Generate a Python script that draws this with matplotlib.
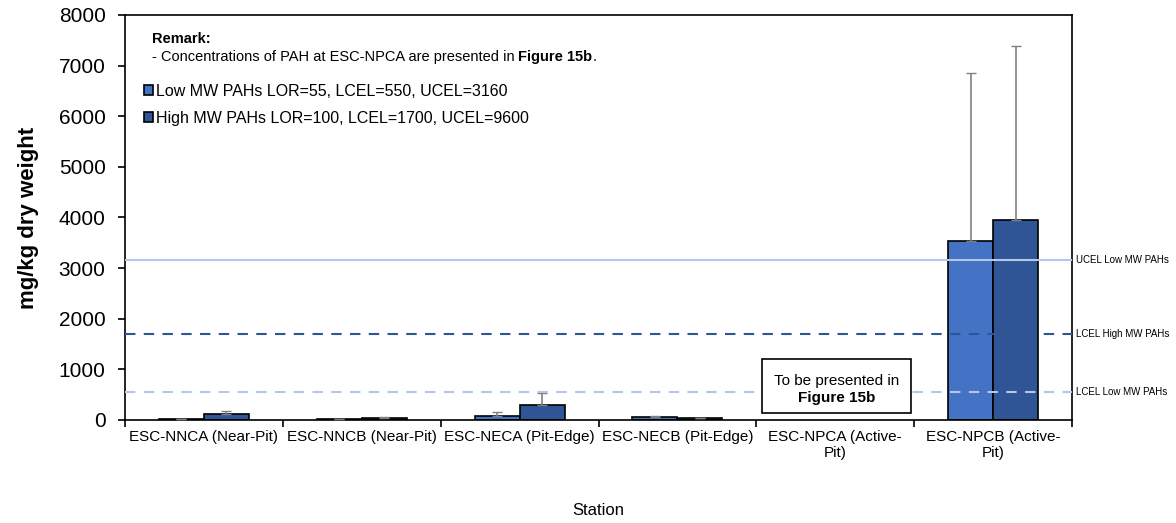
import numpy as np
import matplotlib.pyplot as plt
from matplotlib.patches import Rectangle

plt.rcParams['font.family'] = ['Liberation Sans', 'DejaVu Sans']

# Dados
stations = ['ESC-NNCA (Near-Pit)', 'ESC-NNCB (Near-Pit)', 'ESC-NECA (Pit-Edge)',
            'ESC-NECB (Pit-Edge)', 'ESC-NPCA (Active-\nPit)', 'ESC-NPCB (Active-\nPit)']
low_mw = [20, 15, 80, 50, np.nan, 3530]
low_err = [0, 0, 70, 30, np.nan, 3320]
high_mw = [115, 45, 290, 45, np.nan, 3950]
high_err = [65, 10, 240, 0, np.nan, 3430]

ucel_low = 3160
lcel_high = 1700
lcel_low = 550

c_low = '#4472C4'
c_high = '#2F5597'

fig = plt.figure(figsize=(11.76, 5.23), dpi=100)
ax = fig.add_axes([0.1063, 0.197, 0.8053, 0.7744])

x = np.arange(len(stations))
w = 0.285
ax.bar(x - w / 2, low_mw, w, color=c_low, edgecolor='black', linewidth=1.2,
       label='Low MW PAHs LOR=55, LCEL=550, UCEL=3160', zorder=2)
ax.bar(x + w / 2, high_mw, w, color=c_high, edgecolor='black', linewidth=1.2,
       label='High MW PAHs LOR=100, LCEL=1700, UCEL=9600', zorder=2)
ax.errorbar(x - w / 2, low_mw, yerr=[np.zeros(len(x)), low_err], fmt='none',
            ecolor='gray', elinewidth=1.2, capsize=3.5, zorder=3)
ax.errorbar(x + w / 2, high_mw, yerr=[np.zeros(len(x)), high_err], fmt='none',
            ecolor='gray', elinewidth=1.2, capsize=3.5, zorder=3)

# Linhas de referência
ax.axhline(ucel_low, color='#B4C7E7', linewidth=1.5, zorder=4)
ax.axhline(lcel_high, color='#2F5597', linewidth=1.5, linestyle=(0, (5, 4)), zorder=4)
ax.axhline(lcel_low, color='#B4C7E7', linewidth=1.5, linestyle=(0, (5, 4)), zorder=4)
for yv, txt in [(ucel_low, 'UCEL Low MW PAHs'), (lcel_high, 'LCEL High MW PAHs'),
                (lcel_low, 'LCEL Low MW PAHs')]:
    ax.text(1.004, yv, txt, transform=ax.get_yaxis_transform(), fontsize=7,
            va='center', ha='left')

ax.set_xlim(-0.5, len(stations) - 0.5)
ax.set_ylim(0, 8000)
ax.set_yticks(np.arange(0, 8001, 1000))
ax.set_xticks(np.arange(-0.5, len(stations), 1), minor=False)
ax.set_xticklabels([])
ax.set_xticks(x, minor=True)
ax.set_xticklabels(stations, minor=True, fontsize=11)
ax.tick_params(axis='x', which='minor', length=0, pad=7)
ax.tick_params(axis='x', which='major', length=5, width=1.2)
ax.tick_params(axis='y', labelsize=15, length=5, width=1.2, pad=9)
for s in ax.spines.values():
    s.set_linewidth(1.2)

ax.set_ylabel('mg/kg dry weight', fontsize=16, fontweight='bold', labelpad=14)
ax.set_xlabel('Station', fontsize=12, labelpad=31)

# Observação
ax.text(0.028, 0.941, 'Remark:', transform=ax.transAxes, fontsize=10.5,
        fontweight='bold', va='center')
t1 = ax.text(0.028, 0.896, '- Concentrations of PAH at ESC-NPCA are presented in ',
             transform=ax.transAxes, fontsize=10.5, va='center')
t2 = ax.annotate('Figure 15b', xy=(1, 0), xycoords=t1, fontsize=10.5,
                 fontweight='bold', va='bottom')
ax.annotate('.', xy=(1, 0), xycoords=t2, fontsize=10.5, va='bottom')

ax.legend(loc='upper left', bbox_to_anchor=(0.02, 0.83), frameon=False,
          fontsize=11.5, handlelength=0.55, handleheight=0.55, handletextpad=0.2,
          labelspacing=0.75, borderaxespad=0.0, borderpad=0.0)

# Caixa de texto
ax.add_patch(Rectangle((3.537, 138), 0.944, 1067, facecolor='white',
                       edgecolor='black', linewidth=1.2, zorder=5))
ax.text(4.01, 770, 'To be presented in', ha='center', va='center', fontsize=11,
        zorder=6)
ax.text(4.01, 435, 'Figure 15b', ha='center', va='center', fontsize=11,
        fontweight='bold', zorder=6)

plt.savefig('out.png', dpi=100)
